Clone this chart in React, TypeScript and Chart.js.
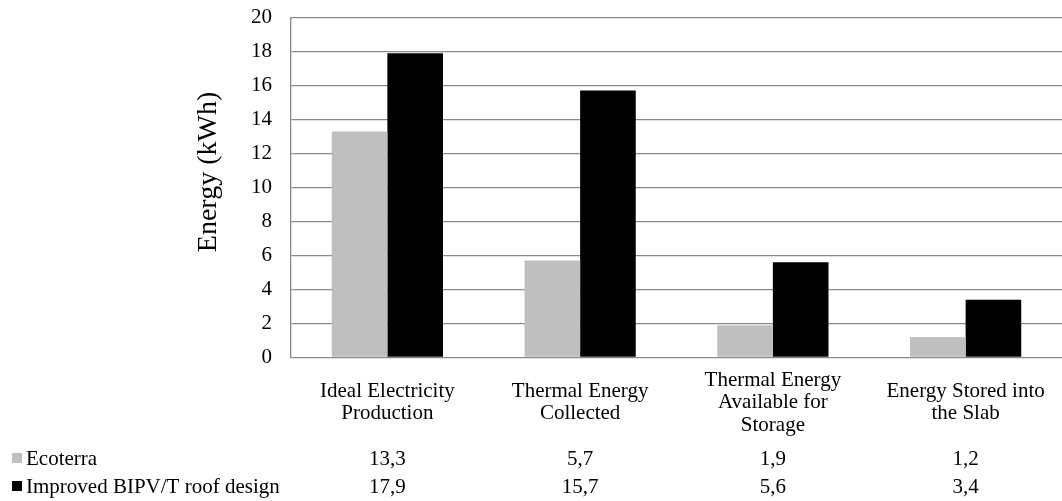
import React, { useEffect, useRef } from "react";
import { Chart, registerables } from "chart.js";

Chart.register(...registerables);

const categories: string[][] = [
  ["Ideal Electricity", "Production"],
  ["Thermal Energy", "Collected"],
  ["Thermal Energy", "Available for", "Storage"],
  ["Energy Stored into", "the Slab"],
];
const seriesNames = ["Ecoterra", "Improved BIPV/T roof design"];
const ecoterra = [13.3, 5.7, 1.9, 1.2];
const improved = [17.9, 15.7, 5.6, 3.4];
const seriesColors = ["#bfbfbf", "#000000"];
const yMin = 0;
const yMax = 20;
const yStep = 2;
const yTitle = "Energy (kWh)";

const FONT = '"Liberation Serif"';
const GRID = "#898989";
const TEXT_SIZE = 21;

const fmt = (v: number) => v.toFixed(1).replace(".", ",");

// Draws the rotated axis title, the wrapped category names and the data table rows.
const tablePlugin = {
  id: "dataTable",
  afterDraw(chart: any) {
    const ctx = chart.ctx as CanvasRenderingContext2D;
    const x = chart.scales.x;
    const area = chart.chartArea;
    ctx.save();

    // y axis title
    ctx.save();
    ctx.translate(216, 172);
    ctx.rotate(-Math.PI / 2);
    ctx.font = `28px ${FONT}`;
    ctx.fillStyle = "#000";
    ctx.textAlign = "center";
    ctx.textBaseline = "alphabetic";
    ctx.fillText(yTitle, 0, 0);
    ctx.restore();

    // category names
    ctx.font = `${TEXT_SIZE}px ${FONT}`;
    ctx.fillStyle = "#000";
    ctx.textAlign = "center";
    ctx.textBaseline = "alphabetic";
    const lh = 22.5;
    const mid = area.bottom + 50.5;
    categories.forEach((lines, i) => {
      const cx = x.getPixelForValue(i);
      const first = mid - ((lines.length - 1) / 2) * lh;
      lines.forEach((ln, j) => ctx.fillText(ln, cx, first + j * lh));
    });

    // data table rows
    const rows = [ecoterra, improved];
    const baselines = [area.bottom + 107.5, area.bottom + 135.5];
    rows.forEach((vals, r) => {
      const by = baselines[r];
      ctx.fillStyle = seriesColors[r];
      ctx.fillRect(12, by - 12, 10, 10);
      ctx.fillStyle = "#000";
      ctx.textAlign = "left";
      ctx.fillText(seriesNames[r], 26, by);
      ctx.textAlign = "center";
      vals.forEach((v, i) => ctx.fillText(fmt(v), x.getPixelForValue(i), by));
    });

    ctx.restore();
  },
};

export default function App() {
  const ref = useRef<HTMLCanvasElement | null>(null);

  useEffect(() => {
    if (!ref.current) return;
    const chart = new Chart(ref.current, {
      type: "bar",
      data: {
        labels: categories.map((c) => c.join(" ")),
        datasets: [
          {
            label: seriesNames[0],
            data: ecoterra,
            backgroundColor: seriesColors[0],
            categoryPercentage: 0.577,
            barPercentage: 1,
          },
          {
            label: seriesNames[1],
            data: improved,
            backgroundColor: seriesColors[1],
            categoryPercentage: 0.577,
            barPercentage: 1,
          },
        ],
      },
      options: {
        animation: false,
        responsive: false,
        maintainAspectRatio: false,
        layout: { padding: { top: 17.5, bottom: 143.5, left: 0, right: 0 } },
        plugins: {
          legend: { display: false },
          tooltip: { enabled: false },
        },
        scales: {
          x: {
            display: false,
          },
          y: {
            min: yMin,
            max: yMax,
            ticks: {
              stepSize: yStep,
              padding: 0,
              color: "#000",
              font: { family: FONT, size: TEXT_SIZE },
            },
            grid: {
              color: GRID,
              lineWidth: 1.3,
              drawTicks: true,
              tickLength: 19,
              tickColor: "rgba(0,0,0,0)",
            },
            border: { color: GRID, width: 1.3 },
            afterFit: (scale: any) => {
              scale.width = 291;
            },
          },
        },
      },
      plugins: [tablePlugin],
    });
    return () => chart.destroy();
  }, []);

  return (
    <div style={{ position: "fixed", left: 0, top: 0, width: 1062, height: 501, background: "#fff" }}>
      <canvas ref={ref} width={1062} height={501} style={{ display: "block" }} />
    </div>
  );
}
